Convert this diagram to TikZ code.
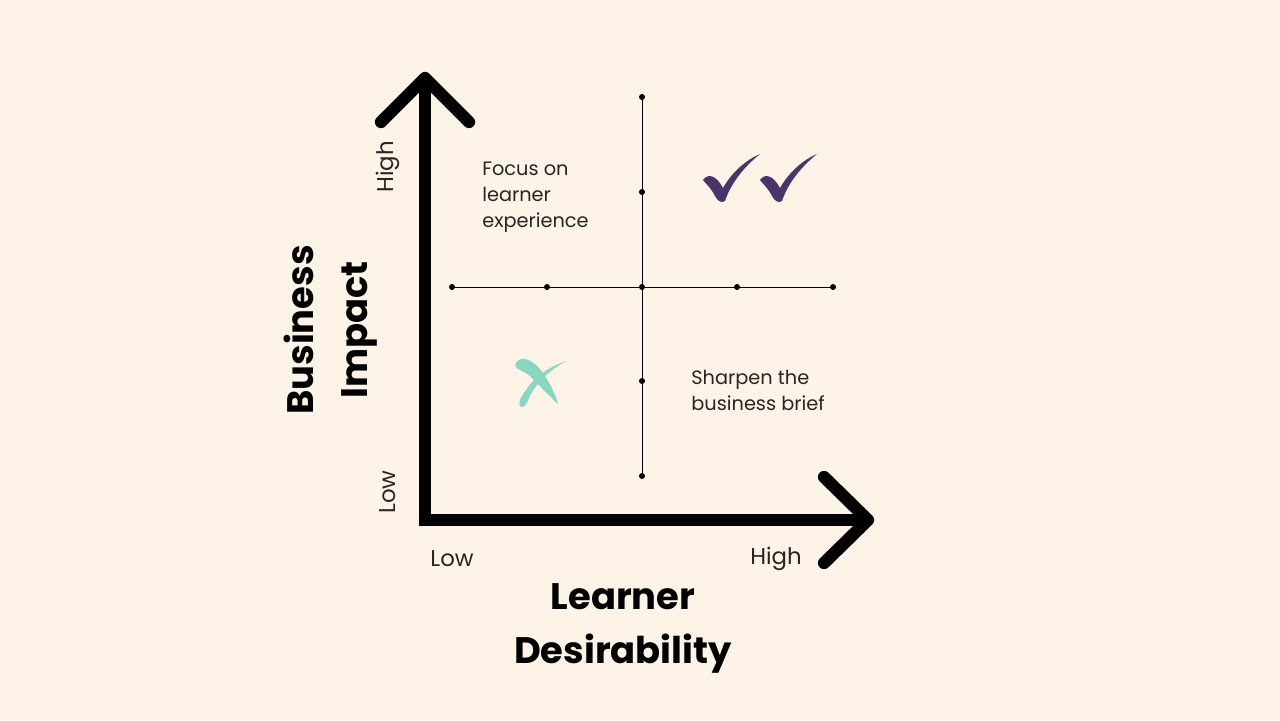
\documentclass[tikz,border=0pt]{standalone}
\usepackage{fontspec}
\setmainfont{Poppins}
\usepackage{tikz}
\usetikzlibrary{positioning,calc}
\definecolor{paper}{HTML}{FDF3E6}
\definecolor{plum}{HTML}{4B3468}
\definecolor{mint}{HTML}{8AD6C0}
\definecolor{txt}{HTML}{262626}

\begin{document}
\begin{tikzpicture}[x=0.02cm,y=-0.02cm,
  axis/.style={line width=7pt,line join=miter},
  chevron/.style={line width=7pt,line cap=round,line join=round},
  grid/.style={line width=0.5pt},
  note/.style={inner sep=0pt,align=left,anchor=west,text=txt,font=\fontsize{11}{14.8}\selectfont},
  scalelbl/.style={inner sep=0pt,text=txt,font=\fontsize{13}{16}\selectfont},
  title/.style={inner sep=0pt,align=center,font=\bfseries\fontsize{21}{30.7}\selectfont}]
  \fill[paper] (0,0) rectangle (1280,720);
  % axes
  \coordinate (ytip) at (425,78);
  \coordinate (xtip) at (868,520);
  \draw[axis] (ytip) |- (xtip);
  \draw[chevron] ($(ytip)+(-44,44)$) -- (ytip) -- ($(ytip)+(44,44)$);
  \draw[chevron] ($(xtip)+(-44,-43)$) -- (xtip) -- ($(xtip)+(-44,43)$);
  % grid
  \coordinate (gtop) at (642,97);
  \coordinate (gbot) at (642,476);
  \coordinate (glft) at (452,287);
  \coordinate (grgt) at (833,287);
  \draw[grid] (gtop) -- (gbot);
  \draw[grid] (glft) -- (grgt);
  \foreach \y in {97,192,287,381,476}{\fill (642,\y) circle (3);}
  \foreach \x in {452,547,737,833}{\fill (\x,287) circle (3);}
  % quadrant notes
  \node[note] (focus) at (482,197) {Focus on\\learner\\experience};
  \node[note] (sharpen) at (691,390) {Sharpen the\\business brief};
  % ticks
  \foreach \dx/\nm in {0/tickone,57/ticktwo}{
    \begin{scope}[shift={(722+\dx,200)}]
      \fill[plum] (-19,-20) .. controls (-14,-27) and (-6,-25) .. (1,-12)
        .. controls (10,-28) and (24,-40) .. (38,-46)
        .. controls (22,-33) and (9,-17) .. (3,1)
        .. controls (0,3) and (-4,2) .. (-7,-4)
        .. controls (-11,-12) and (-16,-16) .. (-19,-20) -- cycle;
    \end{scope}}
  % cross
  \fill[mint] (516,363) .. controls (521,355) and (533,359) .. (543,373)
    .. controls (551,385) and (556,396) .. (558,404)
    .. controls (550,397) and (540,386) .. (530,376)
    .. controls (521,369) and (513,369) .. (516,363) -- cycle;
  \fill[mint] (567,361) .. controls (550,366) and (535,376) .. (526,390)
    .. controls (520,398) and (517,405) .. (521,407)
    .. controls (526,408) and (527,401) .. (531,394)
    .. controls (539,380) and (552,368) .. (567,361) -- cycle;
  % scale labels
  \node[scalelbl,rotate=90] (yhigh) at (388,167) {High};
  \node[scalelbl,rotate=90] (ylow) at (388,492) {Low};
  \node[scalelbl] (xlow) at (452,559) {Low};
  \node[scalelbl] (xhigh) at (776,559) {High};
  % axis titles
  \node[title] (xtitle) at (623,628) {Learner\\Desirability};
  \node[title,rotate=90] (ytitle) at (331,330) {Business\\Impact};
\end{tikzpicture}
\end{document}
